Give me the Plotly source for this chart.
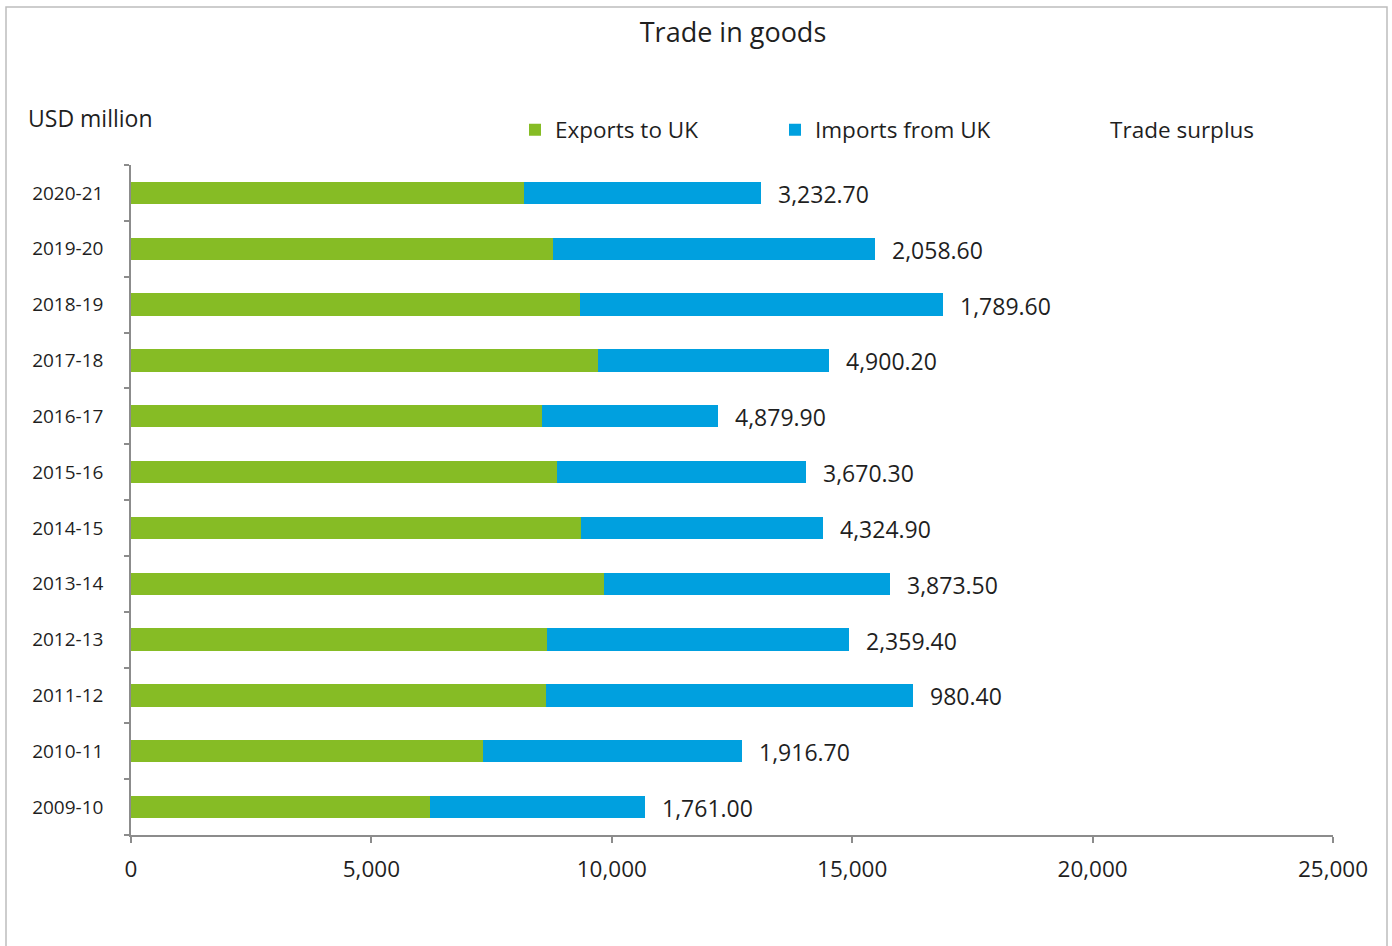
import plotly.graph_objects as go

years = ["2009-10", "2010-11", "2011-12", "2012-13", "2013-14", "2014-15",
         "2015-16", "2016-17", "2017-18", "2018-19", "2019-20", "2020-21"]
exports_to_uk = [6226, 7313, 8623, 8647, 9830, 9359, 8855, 8545, 9709, 9340, 8767, 8169]
imports_from_uk = [4465, 5396, 7643, 6287, 5957, 5034, 5185, 3665, 4809, 7550, 6708, 4936]
trade_surplus = [1761.00, 1916.70, 980.40, 2359.40, 3873.50, 4324.90,
                 3670.30, 4879.90, 4900.20, 1789.60, 2058.60, 3232.70]

GREEN = "#86BC25"
BLUE = "#00A0DF"
TXT = "#1F1F1F"
AXIS = "#8C8C8C"
FONT = "Open Sans"

totals = [e + i for e, i in zip(exports_to_uk, imports_from_uk)]

fig = go.Figure()
fig.add_trace(go.Bar(y=years, x=exports_to_uk, orientation="h", name="Exports to UK",
                     marker=dict(color=GREEN, line=dict(width=0))))
fig.add_trace(go.Bar(y=years, x=imports_from_uk, orientation="h", name="Imports from UK",
                     marker=dict(color=BLUE, line=dict(width=0))))
# legend-only entry for Trade surplus (no visible symbol)
fig.add_trace(go.Scatter(y=[None], x=[None], mode="lines", name="      Trade surplus",
                         line=dict(width=0, color="rgba(0,0,0,0)")))

annotations = [dict(text="USD million", xref="paper", yref="paper",
                    x=(26-131)/1202, y=1+(165-118)/670, xanchor="left",
                    yanchor="middle", showarrow=False,
                    font=dict(size=23, color=TXT, family=FONT))]
for yr, tot, s in zip(years, totals, trade_surplus):
    annotations.append(dict(x=tot, y=yr, xref="x", yref="y", text=f"{s:,.2f}",
                            xanchor="left", yanchor="middle", xshift=15, yshift=-1,
                            showarrow=False,
                            font=dict(size=23, color=TXT, family=FONT)))

fig.update_layout(
    barmode="stack",
    bargap=0.6,
    width=1392, height=946,
    margin=dict(l=131, r=59, t=165, b=111),
    paper_bgcolor="white", plot_bgcolor="white",
    font=dict(family=FONT, color=TXT),
    title=dict(text="Trade in goods", x=733/1392, xanchor="center",
               y=1-33/946, yanchor="middle", yref="container",
               font=dict(size=27, color=TXT, family=FONT)),
    legend=dict(orientation="h", x=(515-131)/1202, xanchor="left",
                y=1+(165-130)/670, yanchor="middle",
                font=dict(size=22.5, color=TXT, family=FONT),
                entrywidth=215, bgcolor="rgba(0,0,0,0)", traceorder="normal"),
    showlegend=True,
    xaxis=dict(range=[0, 25000], tickvals=[0, 5000, 10000, 15000, 20000, 25000],
               tickformat=",d", showgrid=False, zeroline=False,
               showline=True, linecolor=AXIS, linewidth=1.5,
               ticks="outside", ticklen=6, tickcolor=AXIS, tickwidth=1.5,
               tickfont=dict(size=22.5, color=TXT, family=FONT),
               ticklabelstandoff=7),
    yaxis=dict(type="category", categoryorder="array", categoryarray=years,
               range=[-0.5, len(years) - 0.5], autorange=False,
               showgrid=False, zeroline=False,
               showline=True, linecolor=AXIS, linewidth=1.5,
               ticks="outside", ticklen=5, tickcolor=AXIS, tickwidth=1.5,
               tickson="boundaries",
               tickfont=dict(size=19, color=TXT, family=FONT),
               ticklabelstandoff=22),
    annotations=annotations,
    shapes=[dict(type="rect", xref="paper", yref="paper",
                 x0=(6-131)/1202, x1=(1387-131)/1202,
                 y0=(835-960)/670, y1=(835-7)/670,
                 line=dict(color="#BDBDBD", width=1.5), fillcolor="rgba(0,0,0,0)",
                 layer="below")],
)

fig.write_html("out.html")
